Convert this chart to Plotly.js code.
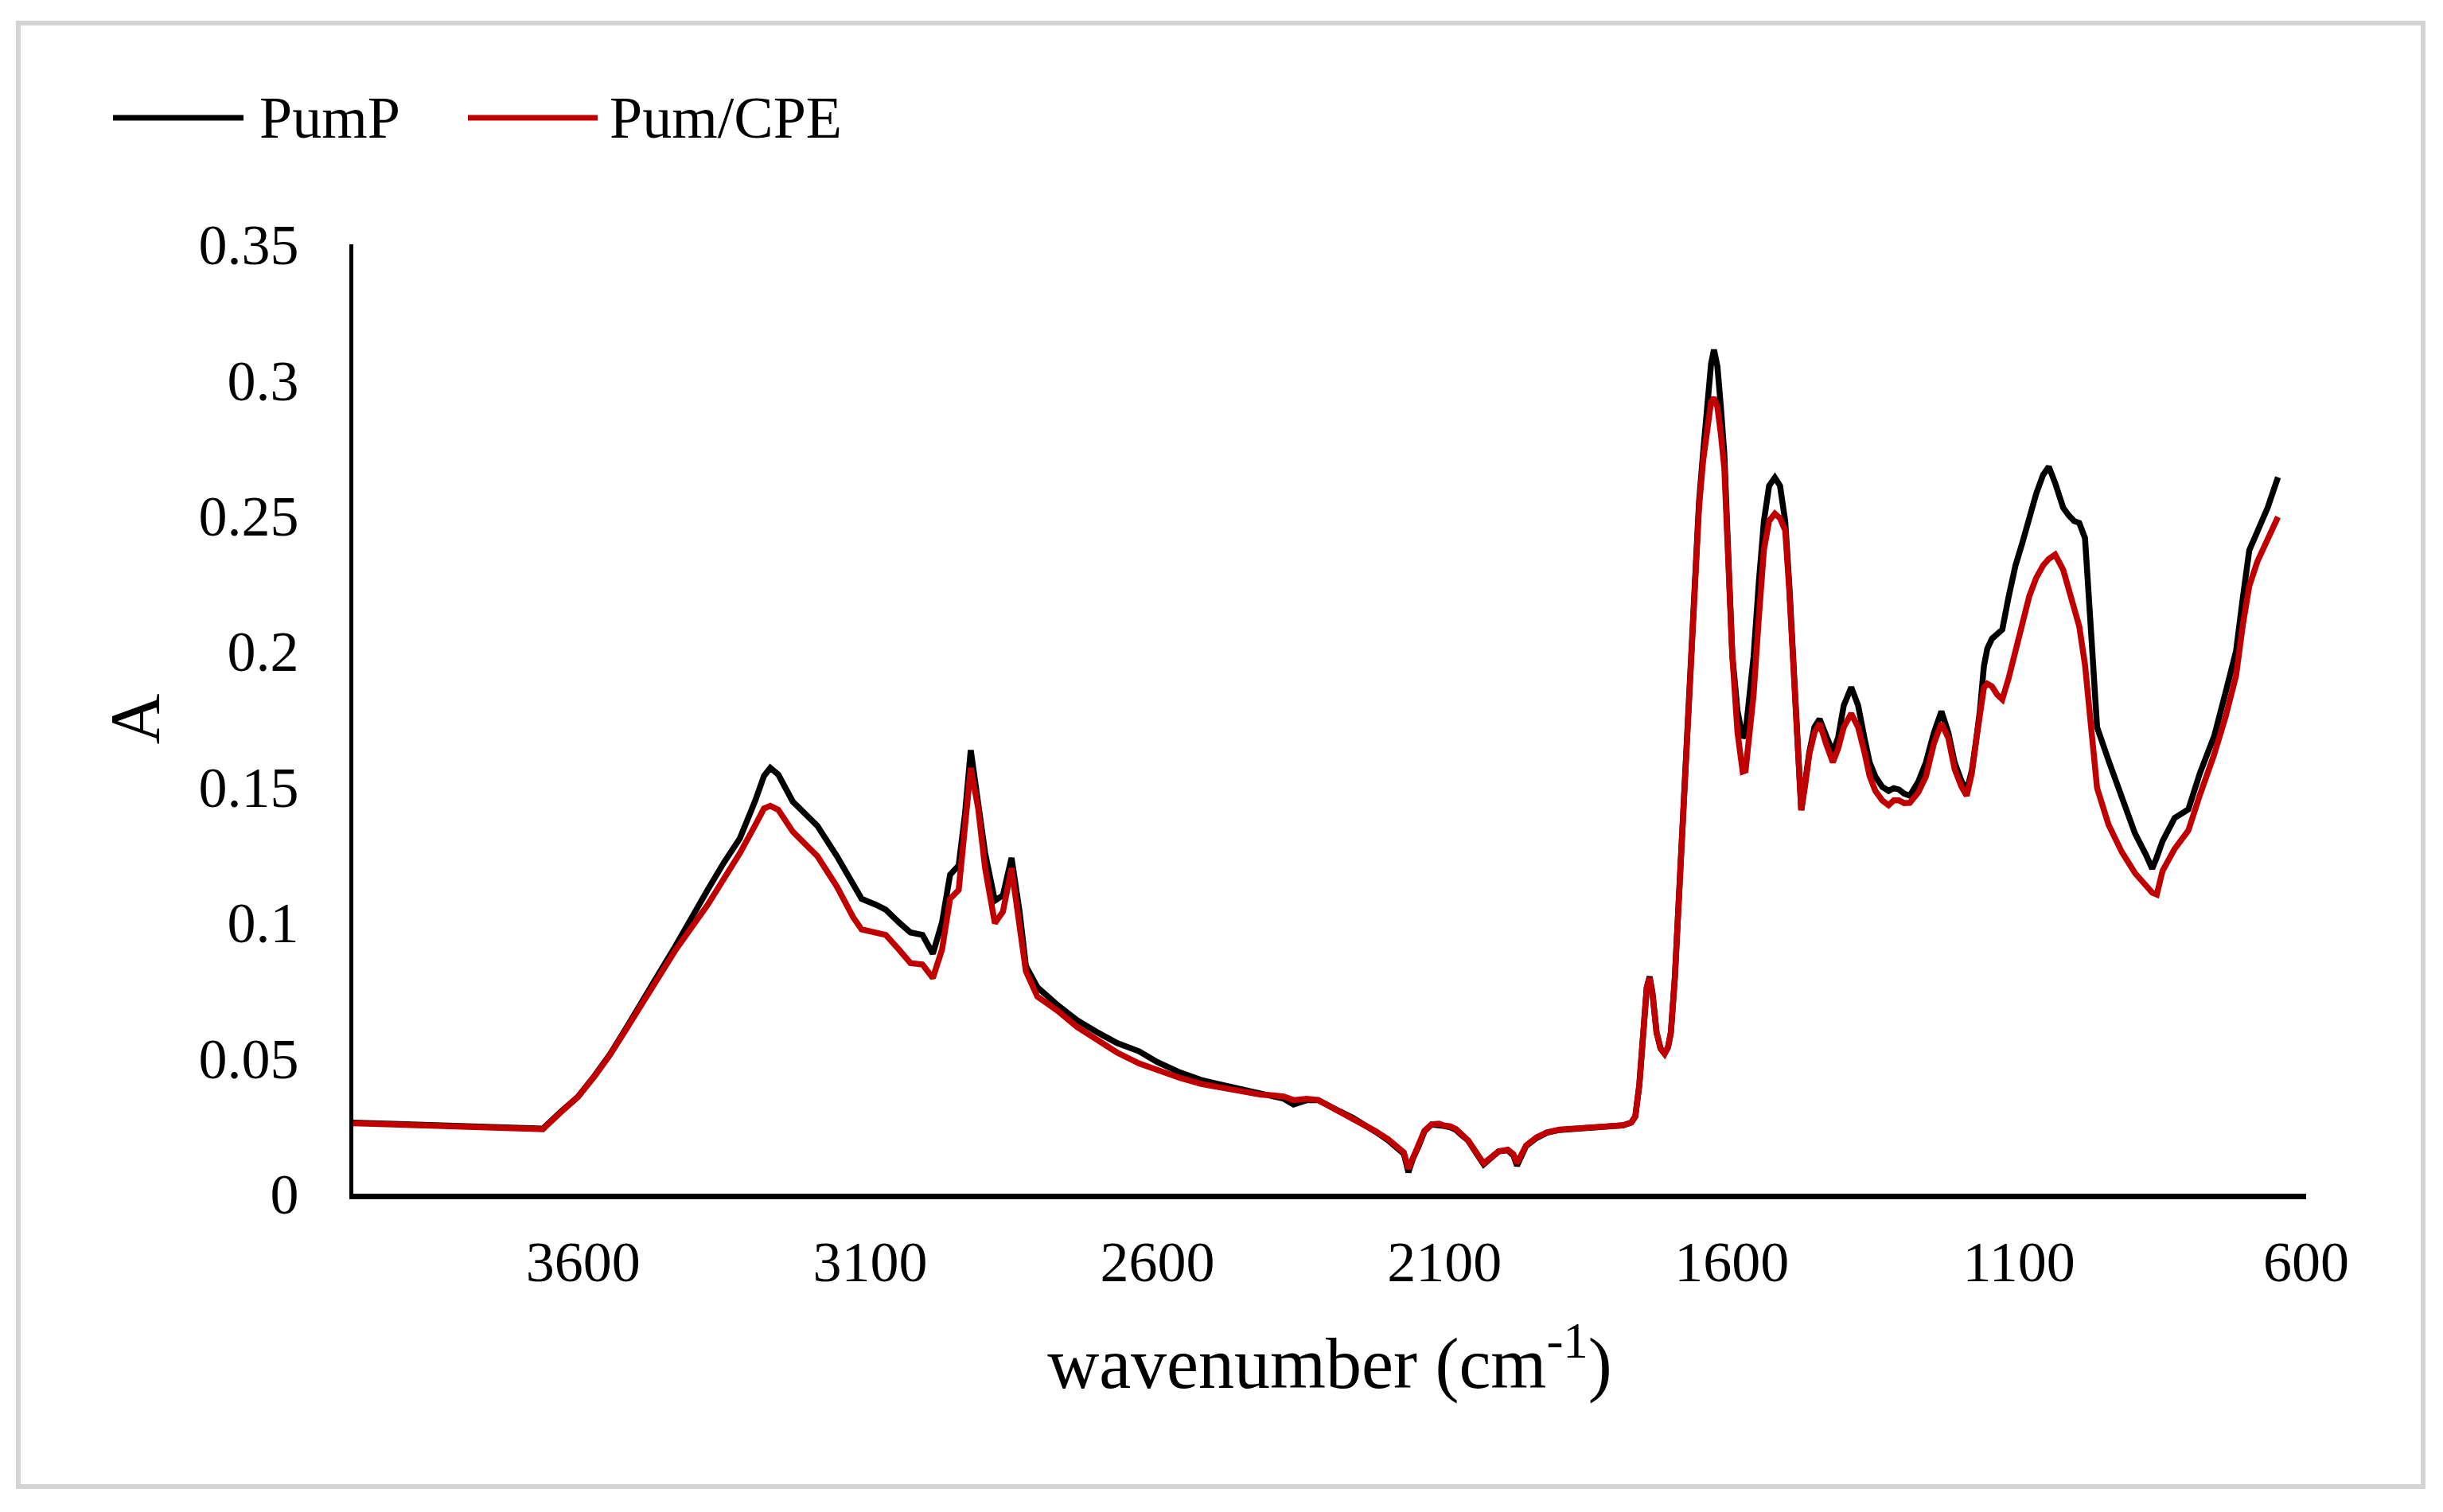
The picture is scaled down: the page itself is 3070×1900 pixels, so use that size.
<!DOCTYPE html>
<html>
<head>
<meta charset="utf-8">
<script src="https://cdn.plot.ly/plotly-3.0.1.min.js"></script>
<style>
  html, body { margin: 0; padding: 0; background: #ffffff; }
  #chart { width: 3070px; height: 1900px; }
</style>
</head>
<body>
<div id="chart"></div>
<script>
// FTIR spectra (wavenumber in cm-1, absorbance A)
const wavenumber = [
  4000, 3950, 3900, 3850, 3800, 3750, 3700, 3670, 3640, 3609,
  3580, 3553, 3525, 3497, 3470, 3440, 3410, 3383, 3355, 3327,
  3300, 3285, 3274, 3260, 3235, 3192, 3158, 3130, 3115, 3090,
  3073, 3050, 3030, 3009, 2991, 2975, 2961, 2946, 2935, 2925,
  2912, 2900, 2883, 2869, 2854, 2840, 2829, 2809, 2773, 2740,
  2703, 2670, 2632, 2600, 2561, 2525, 2490, 2455, 2420, 2398,
  2380, 2363, 2340, 2320, 2300, 2282, 2260, 2239, 2220, 2198,
  2180, 2171, 2163, 2155, 2145, 2135, 2123, 2110, 2102, 2090,
  2080, 2070, 2059, 2045, 2032, 2020, 2006, 1990, 1980, 1974,
  1965, 1958, 1940, 1922, 1900, 1868, 1830, 1800, 1789, 1775,
  1768, 1761, 1757, 1752, 1748, 1743, 1738, 1731, 1724, 1717,
  1711, 1706, 1699, 1692, 1685, 1678, 1671, 1664, 1657, 1650,
  1642, 1636, 1631, 1625, 1619, 1613, 1606, 1599, 1590, 1581,
  1576, 1569, 1562, 1553, 1544, 1535, 1525, 1516, 1507, 1500,
  1493, 1486, 1479, 1472, 1465, 1456, 1447, 1436, 1424, 1415,
  1405, 1392, 1380, 1369, 1360, 1350, 1338, 1327, 1318, 1309,
  1300, 1290, 1275, 1262, 1248, 1235, 1223, 1212, 1200, 1191,
  1182, 1175, 1168, 1161, 1155, 1147, 1138, 1129, 1118, 1106,
  1094, 1082, 1070, 1058, 1048, 1037, 1023, 1013, 1004, 995,
  985, 974, 964, 944, 921, 898, 879, 868, 860, 850,
  829, 805, 785, 760, 740, 722, 710, 699, 685, 667,
  649
];

const pumP = [
  0.0262, 0.0258, 0.0254, 0.0250, 0.0246, 0.0242, 0.0238, 0.0240, 0.0300, 0.0357,
  0.0435, 0.0514, 0.0610, 0.0705, 0.0805, 0.0910, 0.1015, 0.1120, 0.1220, 0.1310,
  0.1450, 0.1540, 0.1570, 0.1545, 0.1446, 0.1356, 0.1244, 0.1140, 0.1087, 0.1065,
  0.1047, 0.1000, 0.0963, 0.0954, 0.0885, 0.1000, 0.1176, 0.1210, 0.1400, 0.1635,
  0.1450, 0.1256, 0.1080, 0.1100, 0.1238, 0.1040, 0.0840, 0.0761, 0.0694, 0.0640,
  0.0593, 0.0555, 0.0525, 0.0485, 0.0447, 0.0420, 0.0402, 0.0385, 0.0368, 0.0362,
  0.0350, 0.0329, 0.0345, 0.0345, 0.0320, 0.0303, 0.0280, 0.0255, 0.0228, 0.0196,
  0.0165, 0.0147, 0.0079, 0.0130, 0.0176, 0.0230, 0.0255, 0.0255, 0.0250, 0.0245,
  0.0235, 0.0215, 0.0196, 0.0150, 0.0108, 0.0130, 0.0156, 0.0160, 0.0140, 0.0103,
  0.0150, 0.0176, 0.0205, 0.0225, 0.0235, 0.0240, 0.0245, 0.0248, 0.0252, 0.0262,
  0.0284, 0.0400, 0.0500, 0.0650, 0.0760, 0.0800, 0.0740, 0.0595, 0.0535, 0.0516,
  0.0540, 0.0595, 0.0800, 0.1094, 0.1400, 0.1716, 0.2030, 0.2338, 0.2550, 0.2729,
  0.2930, 0.3060, 0.3111, 0.3050, 0.2900, 0.2729, 0.2350, 0.1983, 0.1780, 0.1680,
  0.1700, 0.1820, 0.1980, 0.2250, 0.2480, 0.2610, 0.2640, 0.2610, 0.2480, 0.2250,
  0.1980, 0.1700, 0.1414, 0.1520, 0.1627, 0.1720, 0.1750, 0.1690, 0.1627, 0.1680,
  0.1800, 0.1867, 0.1800, 0.1680, 0.1590, 0.1538, 0.1500, 0.1485, 0.1495, 0.1490,
  0.1475, 0.1467, 0.1520, 0.1590, 0.1700, 0.1778, 0.1700, 0.1590, 0.1520, 0.1485,
  0.1560, 0.1664, 0.1780, 0.1945, 0.2010, 0.2046, 0.2060, 0.2080, 0.2200, 0.2316,
  0.2400, 0.2495, 0.2580, 0.2650, 0.2680, 0.2620, 0.2529, 0.2500, 0.2480, 0.2473,
  0.2417, 0.2057, 0.1720, 0.1597, 0.1462, 0.1328, 0.1250, 0.1198, 0.1240, 0.1300,
  0.1385, 0.1417, 0.1550, 0.1687, 0.1850, 0.2000, 0.2200, 0.2372, 0.2440, 0.2529,
  0.2641
];

const pumCPE = [
  0.0260, 0.0256, 0.0252, 0.0249, 0.0245, 0.0240, 0.0237, 0.0238, 0.0298, 0.0357,
  0.0433, 0.0512, 0.0606, 0.0700, 0.0795, 0.0895, 0.0985, 0.1065, 0.1160, 0.1255,
  0.1360, 0.1420, 0.1430, 0.1415, 0.1335, 0.1244, 0.1132, 0.1020, 0.0974, 0.0962,
  0.0954, 0.0900, 0.0850, 0.0845, 0.0795, 0.0900, 0.1087, 0.1120, 0.1350, 0.1570,
  0.1420, 0.1200, 0.0997, 0.1040, 0.1200, 0.1000, 0.0820, 0.0727, 0.0673, 0.0615,
  0.0566, 0.0520, 0.0480, 0.0455, 0.0427, 0.0405, 0.0390, 0.0378, 0.0365, 0.0362,
  0.0358, 0.0345, 0.0350, 0.0345, 0.0322, 0.0305, 0.0282, 0.0258, 0.0230, 0.0200,
  0.0170, 0.0152, 0.0092, 0.0135, 0.0180, 0.0232, 0.0255, 0.0258, 0.0252, 0.0248,
  0.0238, 0.0218, 0.0196, 0.0152, 0.0112, 0.0132, 0.0156, 0.0162, 0.0145, 0.0112,
  0.0152, 0.0178, 0.0208, 0.0226, 0.0236, 0.0240, 0.0245, 0.0248, 0.0252, 0.0262,
  0.0284, 0.0400, 0.0500, 0.0650, 0.0760, 0.0795, 0.0735, 0.0595, 0.0535, 0.0516,
  0.0540, 0.0595, 0.0800, 0.1090, 0.1400, 0.1710, 0.2020, 0.2320, 0.2530, 0.2700,
  0.2850, 0.2920, 0.2934, 0.2900, 0.2800, 0.2676, 0.2330, 0.1983, 0.1700, 0.1556,
  0.1560, 0.1680, 0.1840, 0.2120, 0.2374, 0.2480, 0.2507, 0.2490, 0.2445, 0.2230,
  0.1980, 0.1700, 0.1414, 0.1510, 0.1620, 0.1700, 0.1734, 0.1660, 0.1590, 0.1640,
  0.1720, 0.1770, 0.1720, 0.1627, 0.1540, 0.1485, 0.1450, 0.1432, 0.1450, 0.1450,
  0.1440, 0.1441, 0.1480, 0.1538, 0.1660, 0.1734, 0.1680, 0.1565, 0.1500, 0.1467,
  0.1550, 0.1664, 0.1760, 0.1866, 0.1880, 0.1870, 0.1840, 0.1822, 0.1900, 0.2000,
  0.2100, 0.2203, 0.2270, 0.2316, 0.2340, 0.2356, 0.2300, 0.2227, 0.2159, 0.2092,
  0.1950, 0.1680, 0.1496, 0.1360, 0.1260, 0.1182, 0.1140, 0.1110, 0.1103, 0.1190,
  0.1271, 0.1339, 0.1470, 0.1620, 0.1760, 0.1910, 0.2100, 0.2240, 0.2330, 0.2417,
  0.2495
];

const seriesNames = ["PumP", "Pum/CPE"];
const xTicks = [3600, 3100, 2600, 2100, 1600, 1100, 600];
const xTickText = ["3600", "3100", "2600", "2100", "1600", "1100", "600"];
const yTicks = [0, 0.05, 0.1, 0.15, 0.2, 0.25, 0.3, 0.35];
const yTickText = ["0", "0.05", "0.1", "0.15", "0.2", "0.25", "0.3", "0.35"];

const W = 3070, H = 1900;
const M = { l: 444, r: 172, t: 307, b: 400 };
const plotW = W - M.l - M.r, plotH = H - M.t - M.b;
const serif = "Liberation Serif, Times New Roman, serif";
const lineColors = ["#000000", "#c00000"];

// pixel -> paper helpers for the frame and hand-made legend
const px = (x) => (x - M.l) / plotW;
const py = (y) => (H - M.b - y) / plotH;

const traces = [pumP, pumCPE].map((vals, i) => ({
  type: "scatter",
  mode: "lines",
  x: wavenumber,
  y: vals,
  name: seriesNames[i],
  line: { color: lineColors[i], width: 7.5 },
  showlegend: false,
}));

const legendItems = [
  { x0: 142, x1: 306, tx: 324 },
  { x0: 588, x1: 751, tx: 764 },
];
const legendY = 148;

const shapes = [{
  type: "rect", xref: "paper", yref: "paper",
  x0: px(23), x1: px(3045), y0: py(1868), y1: py(29),
  line: { color: "#d4d4d4", width: 6 },
  fillcolor: "rgba(0,0,0,0)",
}];
const annotations = [];
legendItems.forEach((it, i) => {
  shapes.push({
    type: "line", xref: "paper", yref: "paper",
    x0: px(it.x0), x1: px(it.x1), y0: py(legendY), y1: py(legendY),
    line: { color: lineColors[i], width: 7 },
  });
  annotations.push({
    text: seriesNames[i], xref: "paper", yref: "paper",
    x: px(it.tx), y: py(legendY), xanchor: "left", yanchor: "middle",
    showarrow: false,
    font: { family: serif, size: 74, color: "#000000" },
  });
});

const layout = {
  width: W,
  height: H,
  margin: M,
  paper_bgcolor: "#ffffff",
  plot_bgcolor: "#ffffff",
  font: { family: serif, size: 72, color: "#000000" },
  showlegend: false,
  xaxis: {
    range: [4000, 600],
    tickvals: xTicks,
    ticktext: xTickText,
    ticks: "outside",
    ticklen: 17,
    tickcolor: "rgba(0,0,0,0)",
    tickfont: { family: serif, size: 72, color: "#000000" },
    showgrid: false,
    zeroline: false,
    showline: true,
    linecolor: "#000000",
    linewidth: 7,
    title: {
      text: "wavenumber (cm<sup>-1</sup>)",
      font: { family: serif, size: 90, color: "#000000" },
      standoff: 58,
    },
  },
  yaxis: {
    range: [0, 0.35],
    tickvals: yTicks,
    ticktext: yTickText,
    ticks: "outside",
    ticklen: 49,
    tickcolor: "rgba(0,0,0,0)",
    tickfont: { family: serif, size: 72, color: "#000000" },
    showgrid: false,
    zeroline: false,
    showline: true,
    linecolor: "#000000",
    linewidth: 5,
    title: {
      text: "A",
      font: { family: serif, size: 88, color: "#000000" },
      standoff: 22,
    },
  },
  shapes: shapes,
  annotations: annotations,
};

Plotly.newPlot("chart", traces, layout, { displayModeBar: false, responsive: false });
</script>
</body>
</html>
